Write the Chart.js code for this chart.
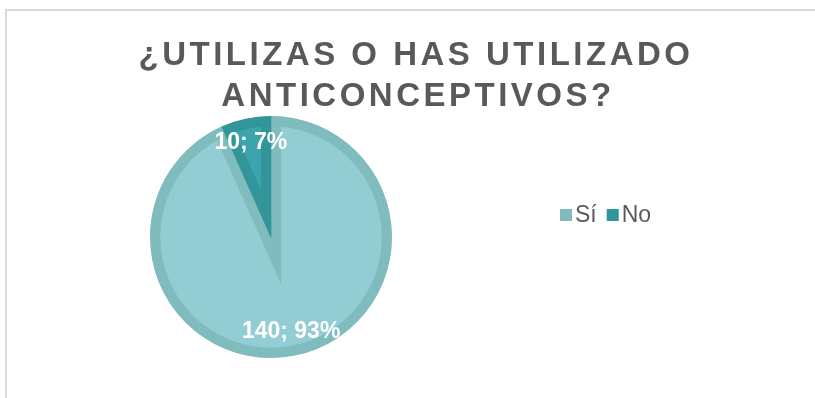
<!DOCTYPE html>
<html>
<head>
<meta charset="utf-8">
<script src="https://cdn.jsdelivr.net/npm/chart.js@4.4.0/dist/chart.umd.min.js"></script>
<style>
  html, body { margin: 0; padding: 0; background: #fff; overflow: hidden; }
  #chart { display: block; }
</style>
</head>
<body>
<canvas id="chart" width="815" height="398"></canvas>
<script>
// data
const categories = ["Sí", "No"];
const values = [140, 10];
const titleLines = ["¿UTILIZAS O HAS UTILIZADO", "ANTICONCEPTIVOS?"];

// slice styling
const fillColors = ["#92cdd3", "#3ba5ab"];
const borderColors = ["#80bbbe", "#31959a"];
const textGray = "#595959";

const total = values.reduce((a, b) => a + b, 0);

// draws the light frame, the spaced-out title and the horizontal legend
const decorPlugin = {
  id: "decor",
  beforeDraw(chart) {
    const ctx = chart.ctx;
    ctx.save();
    ctx.fillStyle = "#d9d9d9";
    ctx.fillRect(5, 9, 810, 2);
    ctx.fillRect(5, 9, 2, 389);
    ctx.restore();
  },
  afterDraw(chart) {
    const ctx = chart.ctx;
    ctx.save();
    // title
    ctx.fillStyle = textGray;
    ctx.font = "bold 33px 'Liberation Sans', Arial, sans-serif";
    ctx.letterSpacing = "3.5px";
    ctx.textAlign = "center";
    ctx.textBaseline = "alphabetic";
    ctx.fillText(titleLines[0], 416, 65);
    ctx.fillText(titleLines[1], 418, 106);
    ctx.letterSpacing = "0px";

    // legend
    ctx.font = "23px 'Liberation Sans', Arial, sans-serif";
    ctx.textAlign = "left";
    let x = 560;
    categories.forEach((name, i) => {
      ctx.fillStyle = borderColors[i];
      ctx.fillRect(x, 209, 12, 12);
      ctx.fillStyle = textGray;
      ctx.fillText(name, x + 15, 222);
      x += 15 + ctx.measureText(name).width + 10;
    });
    ctx.restore();
  }
};

// "value; percent" labels inside each slice
const sliceLabels = {
  id: "sliceLabels",
  afterDatasetsDraw(chart) {
    const ctx = chart.ctx;
    const meta = chart.getDatasetMeta(0);
    ctx.save();
    ctx.fillStyle = "#ffffff";
    ctx.font = "bold 23px 'Liberation Sans', Arial, sans-serif";
    ctx.textAlign = "center";
    ctx.textBaseline = "middle";
    meta.data.forEach((arc, i) => {
      const p = arc.getProps(["x", "y", "startAngle", "endAngle", "outerRadius"], true);
      const mid = (p.startAngle + p.endAngle) / 2;
      const r = p.outerRadius * 0.8;
      const pct = Math.round(values[i] / total * 100);
      ctx.fillText(values[i] + "; " + pct + "%", p.x + Math.cos(mid) * r, p.y + Math.sin(mid) * r);
    });
    ctx.restore();
  }
};

new Chart(document.getElementById("chart"), {
  type: "pie",
  data: {
    labels: categories,
    datasets: [{
      data: values,
      backgroundColor: fillColors,
      borderColor: borderColors,
      borderWidth: 10,
      borderAlign: "inner",
      borderJoinStyle: "miter"
    }]
  },
  options: {
    responsive: false,
    animation: false,
    layout: { padding: { left: 150, right: 423, top: 116, bottom: 40 } },
    plugins: {
      legend: { display: false },
      title: { display: false },
      tooltip: { enabled: false }
    }
  },
  plugins: [decorPlugin, sliceLabels]
});
</script>
</body>
</html>
